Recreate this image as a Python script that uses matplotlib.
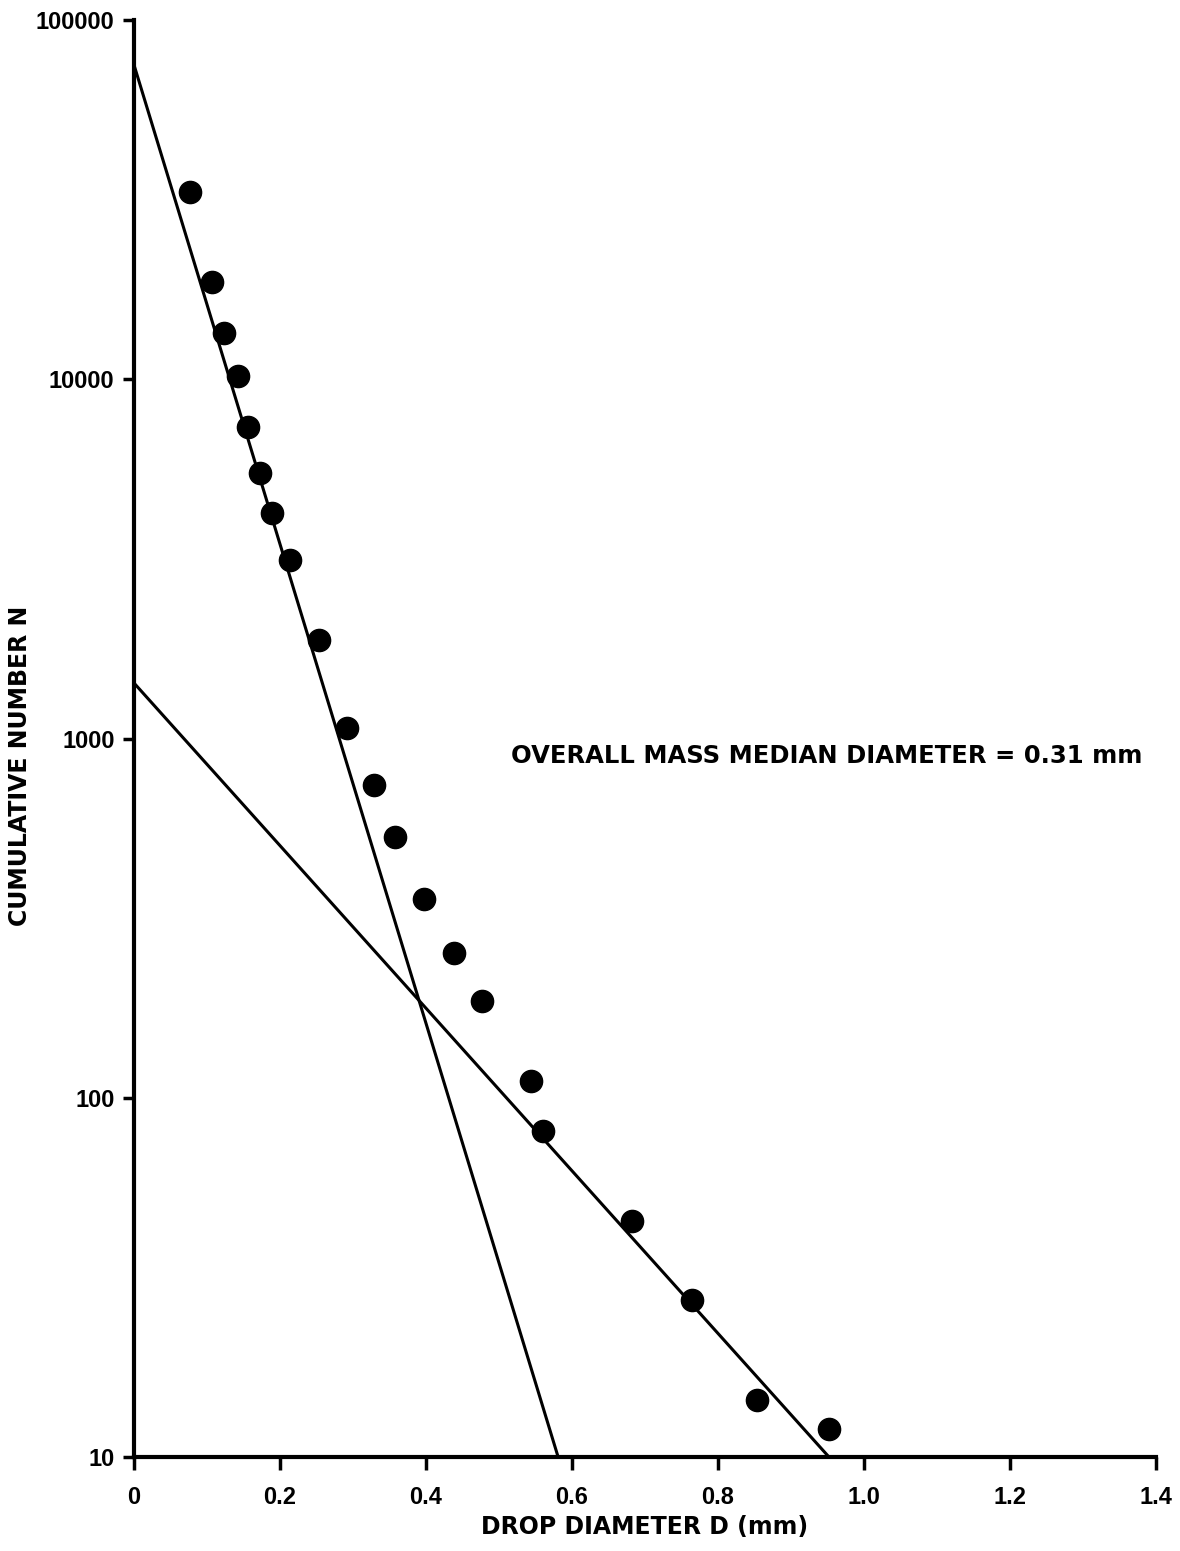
import matplotlib
matplotlib.use("Agg")
import matplotlib.pyplot as plt
import numpy as np

# Data points (drop diameter mm, cumulative number)
diam = [0.077, 0.107, 0.123, 0.143, 0.156, 0.173, 0.189, 0.214, 0.253, 0.292,
        0.329, 0.358, 0.397, 0.438, 0.477, 0.544, 0.560, 0.682, 0.764, 0.853, 0.952]
count = [33200, 18650, 13450, 10210, 7370, 5480, 4240, 3140, 1880, 1069,
         743, 532, 357, 253, 186, 111, 80.8, 45.4, 27.4, 14.4, 12.0]

# Fitted lines (endpoints)
steep_x = [0.0, 0.581]
steep_y = [75000, 10]
shallow_x = [0.0, 0.952]
shallow_y = [1427, 10]

xticks = [0, 0.2, 0.4, 0.6, 0.8, 1.0, 1.2, 1.4]
xticklabels = ["0", "0.2", "0.4", "0.6", "0.8", "1.0", "1.2", "1.4"]
yticks = [10, 100, 1000, 10000, 100000]
yticklabels = ["10", "100", "1000", "10000", "100000"]

plt.rcParams['font.family'] = ['Liberation Sans', 'DejaVu Sans']
plt.rcParams['font.weight'] = 'bold'

fig = plt.figure(figsize=(11.8, 15.51), dpi=100)
ax = fig.add_axes([134/1180, 1 - 1457/1551, (1156 - 134)/1180, (1457 - 20)/1551])

ax.set_yscale('log')
ax.set_xlim(0, 1.4)
ax.set_ylim(10, 100000)

ax.plot(steep_x, steep_y, color='black', lw=2.2, solid_capstyle='butt')
ax.plot(shallow_x, shallow_y, color='black', lw=2.2, solid_capstyle='butt')
ax.plot(diam, count, 'o', color='black', markersize=16, clip_on=False)

for s in ['top', 'right']:
    ax.spines[s].set_visible(False)
for s in ['left', 'bottom']:
    ax.spines[s].set_linewidth(3)

ax.set_xticks(xticks)
ax.set_xticklabels(xticklabels)
ax.set_yticks(yticks)
ax.set_yticklabels(yticklabels)
ax.yaxis.set_minor_locator(matplotlib.ticker.NullLocator())
ax.tick_params(axis='both', direction='out', width=2.5, labelsize=17)
ax.tick_params(axis='x', length=9, pad=12)
ax.tick_params(axis='y', length=8, pad=6)
for lab in ax.get_xticklabels() + ax.get_yticklabels():
    lab.set_fontweight('bold')

ax.set_xlabel("DROP DIAMETER D (mm)", fontsize=17, fontweight='bold', labelpad=4,
              family='DejaVu Sans')
ax.set_ylabel("CUMULATIVE NUMBER N", fontsize=17, fontweight='bold',
              family='DejaVu Sans', va='center')
ax.yaxis.set_label_coords(-0.1115, 0.481)

ax.text(0.516, 893, "OVERALL MASS MEDIAN DIAMETER = 0.31 mm", fontsize=17.5,
        fontweight='bold', ha='left', va='center', family='DejaVu Sans')

fig.savefig("out.png", dpi=100)
